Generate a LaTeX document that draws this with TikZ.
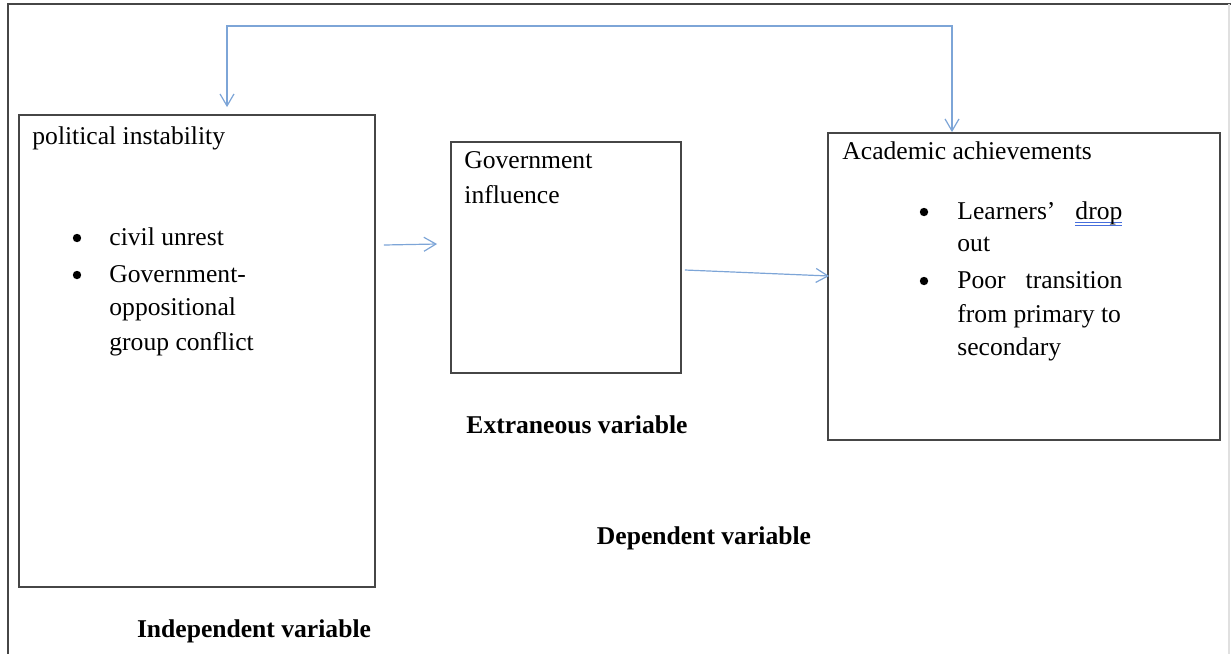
\documentclass[tikz,border=0pt]{standalone}
\usepackage{fontspec}
\setmainfont{Liberation Serif}
\definecolor{frame}{RGB}{70, 70, 70}
\definecolor{link}{RGB}{125, 165, 215}
\definecolor{squiggle}{RGB}{70, 110, 220}
\usetikzlibrary{arrows.meta, positioning}

\newlength{\spellwd}
\newcommand{\spell}[1]{\settowidth{\spellwd}{#1}\rlap{\color{squiggle}\rule[-2.2pt]{\spellwd}{0.5pt}\llap{\rule[-3.4pt]{\spellwd}{0.5pt}}}#1}

\begin{document}
\begin{tikzpicture}[x=0.5pt, y=-0.5pt,
        every node/.style={font=\fontsize{12.8}{16.5}\selectfont, inner sep=0pt},
        box/.style={draw=frame, line width=0.9pt},
        txt/.style={anchor=base west},
        dot/.style={circle, fill=black, minimum size=4.2pt},
        lbl/.style={anchor=base, font=\fontsize{12.8}{16.5}\selectfont\bfseries},
        barb/.tip={Straight Barb[length=6pt, width=7pt]},
        arr/.style={-barb, line width=0.6pt, link}
    ]
        \useasboundingbox (0,0) rectangle (1231,654);
        \draw[frame, line width=1pt] (1231,4) -- (8,4) -- (8,654);
        \draw[black!12, line width=1pt] (1229,4) -- (1229,654);

        % the three boxes
        \node[box, minimum width=178pt, minimum height=236pt] (indep) at (197,351) {};
        \node[box, minimum width=115pt, minimum height=115.5pt] (govt) at (566,257.5) {};
        \node[box, minimum width=196pt, minimum height=153.5pt] (dep) at (1024,286.5) {};

        % independent
        \node[txt] (pol) at (32,144) {political instability};
        \node[dot] (d1) at (77,238) {};
        \node[txt] (civil) at (109,245) {civil unrest};
        \node[dot] (d2) at (77,275) {};
        \node[txt] (gov1) at (109,282) {Government-};
        \node[txt] (gov2) at (109,315) {oppositional};
        \node[txt] (gov3) at (109,350) {group conflict};

        % extraneous
        \node[txt] (infl1) at (464,168) {Government};
        \node[txt] (infl2) at (464,203) {influence};

        % dependent
        \node[txt] (acad) at (842,159) {Academic achievements};
        \node[dot] (d3) at (924,212) {};
        \node[txt] (drop1) at (957,219) {\makebox[82.5pt][s]{Learners' \spell{drop}}};
        \node[txt] (drop2) at (957,251) {out};
        \node[dot] (d4) at (924,281) {};
        \node[txt] (tr1) at (957,288) {\makebox[82.5pt][s]{Poor transition}};
        \node[txt] (tr2) at (957,322) {from primary to};
        \node[txt] (tr3) at (957,355) {secondary};

        % labels
        \node[lbl] (extl) at (577,433) {Extraneous variable};
        \node[lbl] (depl) at (704,544) {Dependent variable};
        \node[lbl] (indl) at (254,637) {Independent variable};

        % connectors
        \coordinate (top) at (590,26);
        \draw[arr] ([xshift=4pt, yshift=53pt]indep.east) -- ([xshift=-6.5pt, yshift=6.75pt]govt.west);
        \draw[arr] ([xshift=1.5pt, yshift=-6.25pt]govt.east) -- ([xshift=1pt, yshift=5.25pt]dep.west);
        \draw[arr, barb-barb] ([xshift=15pt, yshift=3.5pt]indep.north) |- (top) -| ([xshift=-36pt]dep.north);
    \end{tikzpicture}
\end{document}
